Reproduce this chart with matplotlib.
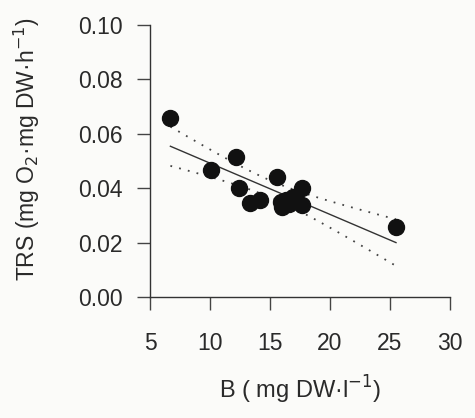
import numpy as np
import matplotlib
matplotlib.use("Agg")
import matplotlib.pyplot as plt

# Data
biomass = [6.7, 10.1, 12.2, 12.4, 13.3, 14.2, 15.6, 15.9, 16.0, 16.3, 16.6, 16.9, 17.7, 17.7, 25.5]
trs = [0.0657, 0.0467, 0.0516, 0.0400, 0.0347, 0.0357, 0.0440, 0.0350, 0.0332, 0.0357, 0.0342, 0.0369, 0.0400, 0.0338, 0.0256]
x_ticks = [5, 10, 15, 20, 25, 30]
y_ticks = [0.00, 0.02, 0.04, 0.06, 0.08, 0.10]

plt.rcParams['font.family'] = ['Liberation Sans', 'DejaVu Sans']
fig = plt.figure(figsize=(4.75, 4.18), dpi=100)
bg = '#fbfbf9'
fig.patch.set_facecolor(bg)
ax = fig.add_axes([150/475, 1-297/418, 300/475, 272/418])
ax.set_facecolor(bg)

x = np.array(biomass); y = np.array(trs)
slope, intercept = np.polyfit(x, y, 1)
n = len(x)
resid = y - (intercept + slope*x)
s = np.sqrt(np.sum(resid**2)/(n-2))
xx = np.linspace(x.min(), x.max(), 100)
yy = intercept + slope*xx
t = 2.16
se = s*np.sqrt(1/n + (xx-x.mean())**2/np.sum((x-x.mean())**2))
ax.plot(xx, yy, color='#333333', lw=1.0, zorder=2)
ax.plot(xx, yy+t*se, color='#444444', lw=1.3, ls=(0, (1, 4)), zorder=2)
ax.plot(xx, yy-t*se, color='#444444', lw=1.3, ls=(0, (1, 4)), zorder=2)
ax.plot(x, y, 'o', color='#111111', ms=11.5, mec='#111111', zorder=3)

ax.set_xlim(5, 30)
ax.set_ylim(0, 0.10)
ax.set_xticks(x_ticks)
ax.set_yticks(y_ticks)
ax.set_yticklabels([f"{v:.2f}" for v in y_ticks])
for sp in ['top', 'right']:
    ax.spines[sp].set_visible(False)
for sp in ['left', 'bottom']:
    ax.spines[sp].set_color('#333333')
    ax.spines[sp].set_linewidth(1.0)
ax.tick_params(direction='out', length=9.5, width=1.0, color='#444444',
               labelsize=16.5, labelcolor='#2a2a2a')
ax.tick_params(axis='y', pad=10)
ax.tick_params(axis='x', pad=16)
ax.set_xlabel('B ( mg DW·l$^{-1}$)', fontsize=17, color='#2a2a2a', labelpad=13)
ax.set_ylabel('TRS (mg O$_2$·mg DW·h$^{-1}$)', fontsize=16.5, color='#2a2a2a')
ax.yaxis.set_label_coords(-0.36, 0.545)
fig.savefig('out.png', dpi=100, facecolor=bg)
